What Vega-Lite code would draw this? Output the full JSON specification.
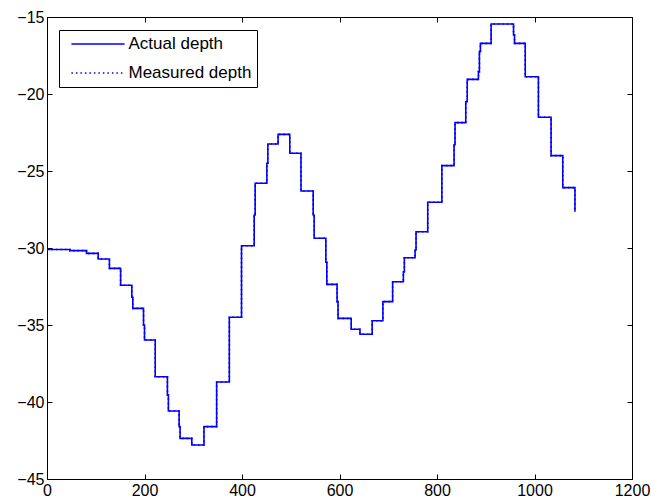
{
  "$schema": "https://vega.github.io/schema/vega-lite/v6.json",
  "width": 585,
  "height": 462,
  "autosize": {"type": "none"},
  "padding": {"left": 47, "top": 17, "right": 19, "bottom": 25},
  "background": "white",
  "config": {
    "view": {"stroke": "#000000", "strokeWidth": 1},
    "axis": {
      "domain": false,
      "grid": false,
      "tickColor": "#000000",
      "tickSize": 5,
      "tickWidth": 1,
      "offset": -5,
      "labelFont": "Liberation Sans",
      "labelFontSize": 16,
      "labelColor": "#000000",
      "labelFlush": false,
      "labelOverlap": false,
      "labelBound": false,
      "format": "d",
      "title": null
    },
    "legend": {
      "labelFont": "Liberation Sans",
      "labelFontSize": 17,
      "labelColor": "#000000"
    }
  },
  "data": {
    "values": [
      {"t": 0, "Actual depth": -30.1, "Measured depth": -30.1}, {"t": 47, "Actual depth": -30.17, "Measured depth": -30.17}, {"t": 81, "Actual depth": -30.35, "Measured depth": -30.35},
      {"t": 105, "Actual depth": -30.71, "Measured depth": -30.71}, {"t": 128, "Actual depth": -31.32, "Measured depth": -31.32}, {"t": 151, "Actual depth": -32.42, "Measured depth": -32.42},
      {"t": 174, "Actual depth": -33.2, "Measured depth": -33.2}, {"t": 176, "Actual depth": -33.92, "Measured depth": -33.92}, {"t": 198, "Actual depth": -35.0, "Measured depth": -35.0},
      {"t": 200, "Actual depth": -35.97, "Measured depth": -35.97}, {"t": 222, "Actual depth": -38.36, "Measured depth": -38.36}, {"t": 247, "Actual depth": -39.55, "Measured depth": -39.55},
      {"t": 249, "Actual depth": -40.58, "Measured depth": -40.58}, {"t": 271, "Actual depth": -41.6, "Measured depth": -41.6}, {"t": 273, "Actual depth": -42.36, "Measured depth": -42.36},
      {"t": 297, "Actual depth": -42.79, "Measured depth": -42.79}, {"t": 322, "Actual depth": -41.6, "Measured depth": -41.6}, {"t": 348, "Actual depth": -38.7, "Measured depth": -38.7},
      {"t": 374, "Actual depth": -34.5, "Measured depth": -34.5}, {"t": 399, "Actual depth": -29.85, "Measured depth": -29.85}, {"t": 425, "Actual depth": -27.86, "Measured depth": -27.86},
      {"t": 427, "Actual depth": -25.8, "Measured depth": -25.8}, {"t": 451, "Actual depth": -24.5, "Measured depth": -24.5}, {"t": 453, "Actual depth": -23.25, "Measured depth": -23.25},
      {"t": 474, "Actual depth": -22.62, "Measured depth": -22.62}, {"t": 498, "Actual depth": -23.85, "Measured depth": -23.85}, {"t": 521, "Actual depth": -26.3, "Measured depth": -26.3},
      {"t": 546, "Actual depth": -27.86, "Measured depth": -27.86}, {"t": 548, "Actual depth": -29.37, "Measured depth": -29.37}, {"t": 572, "Actual depth": -30.93, "Measured depth": -30.93},
      {"t": 574, "Actual depth": -32.36, "Measured depth": -32.36}, {"t": 595, "Actual depth": -33.48, "Measured depth": -33.48}, {"t": 597, "Actual depth": -34.57, "Measured depth": -34.57},
      {"t": 624, "Actual depth": -35.28, "Measured depth": -35.28}, {"t": 642, "Actual depth": -35.6, "Measured depth": -35.6}, {"t": 667, "Actual depth": -34.72, "Measured depth": -34.72},
      {"t": 689, "Actual depth": -33.48, "Measured depth": -33.48}, {"t": 709, "Actual depth": -32.19, "Measured depth": -32.19}, {"t": 731, "Actual depth": -31.54, "Measured depth": -31.54},
      {"t": 733, "Actual depth": -30.63, "Measured depth": -30.63}, {"t": 755, "Actual depth": -30.13, "Measured depth": -30.13}, {"t": 757, "Actual depth": -28.94, "Measured depth": -28.94},
      {"t": 781, "Actual depth": -27.03, "Measured depth": -27.03}, {"t": 810, "Actual depth": -24.65, "Measured depth": -24.65}, {"t": 835, "Actual depth": -23.3, "Measured depth": -23.3},
      {"t": 837, "Actual depth": -21.86, "Measured depth": -21.86}, {"t": 859, "Actual depth": -20.5, "Measured depth": -20.5}, {"t": 862, "Actual depth": -19.05, "Measured depth": -19.05},
      {"t": 885, "Actual depth": -18.55, "Measured depth": -18.55}, {"t": 887, "Actual depth": -17.25, "Measured depth": -17.25}, {"t": 889, "Actual depth": -16.71, "Measured depth": -16.71},
      {"t": 911, "Actual depth": -15.45, "Measured depth": -15.45}, {"t": 957, "Actual depth": -16.17, "Measured depth": -16.17}, {"t": 959, "Actual depth": -16.71, "Measured depth": -16.71},
      {"t": 981, "Actual depth": -18.88, "Measured depth": -18.88}, {"t": 1008, "Actual depth": -21.51, "Measured depth": -21.51}, {"t": 1034, "Actual depth": -24.0, "Measured depth": -24.0},
      {"t": 1058, "Actual depth": -26.08, "Measured depth": -26.08}, {"t": 1083, "Actual depth": -27.65, "Measured depth": -27.65}
    ]
  },
  "transform": [
    {"fold": ["Actual depth", "Measured depth"], "as": ["series", "depth"]}
  ],
  "layer": [
    {
      "mark": {"type": "line", "interpolate": "step-after", "strokeWidth": 1.6},
      "encoding": {
        "x": {
          "field": "t", "type": "quantitative",
          "scale": {"domain": [0, 1200], "nice": false, "zero": false},
          "axis": {"orient": "bottom", "values": [0, 200, 400, 600, 800, 1000, 1200], "labelPadding": 3}
        },
        "y": {
          "field": "depth", "type": "quantitative",
          "scale": {"domain": [-45, -15], "nice": false, "zero": false},
          "axis": {"orient": "left", "values": [-45, -40, -35, -30, -25, -20, -15], "labelPadding": 3}
        },
        "color": {
          "field": "series", "type": "nominal",
          "scale": {"domain": ["Actual depth", "Measured depth"], "range": ["#0000ff", "#0000ff"]},
          "legend": {
            "orient": "none", "legendX": 12, "legendY": 13, "title": null,
            "fillColor": "#ffffff", "strokeColor": "#000000", "padding": 5.5,
            "symbolType": "M-3.8,0H3.8", "symbolSize": 196, "symbolStrokeWidth": 1.6,
            "symbolOffset": 25, "labelOffset": 22, "rowPadding": 11
          }
        },
        "strokeDash": {
          "field": "series", "type": "nominal",
          "scale": {"domain": ["Actual depth", "Measured depth"], "range": [[1, 0], [1.5, 3]]},
          "legend": {
            "orient": "none", "legendX": 12, "legendY": 13, "title": null,
            "fillColor": "#ffffff", "strokeColor": "#000000", "padding": 5.5,
            "symbolType": "M-3.8,0H3.8", "symbolSize": 196, "symbolStrokeWidth": 1.6,
            "symbolOffset": 25, "labelOffset": 22, "rowPadding": 11
          }
        }
      }
    },
    {
      "mark": {"type": "line", "opacity": 0},
      "encoding": {
        "x": {
          "field": "t", "type": "quantitative",
          "axis": {"orient": "top", "values": [0, 200, 400, 600, 800, 1000, 1200], "labels": false}
        },
        "y": {
          "field": "depth", "type": "quantitative",
          "axis": {"orient": "right", "values": [-45, -40, -35, -30, -25, -20, -15], "labels": false}
        }
      }
    }
  ],
  "resolve": {"axis": {"x": "independent", "y": "independent"}}
}
